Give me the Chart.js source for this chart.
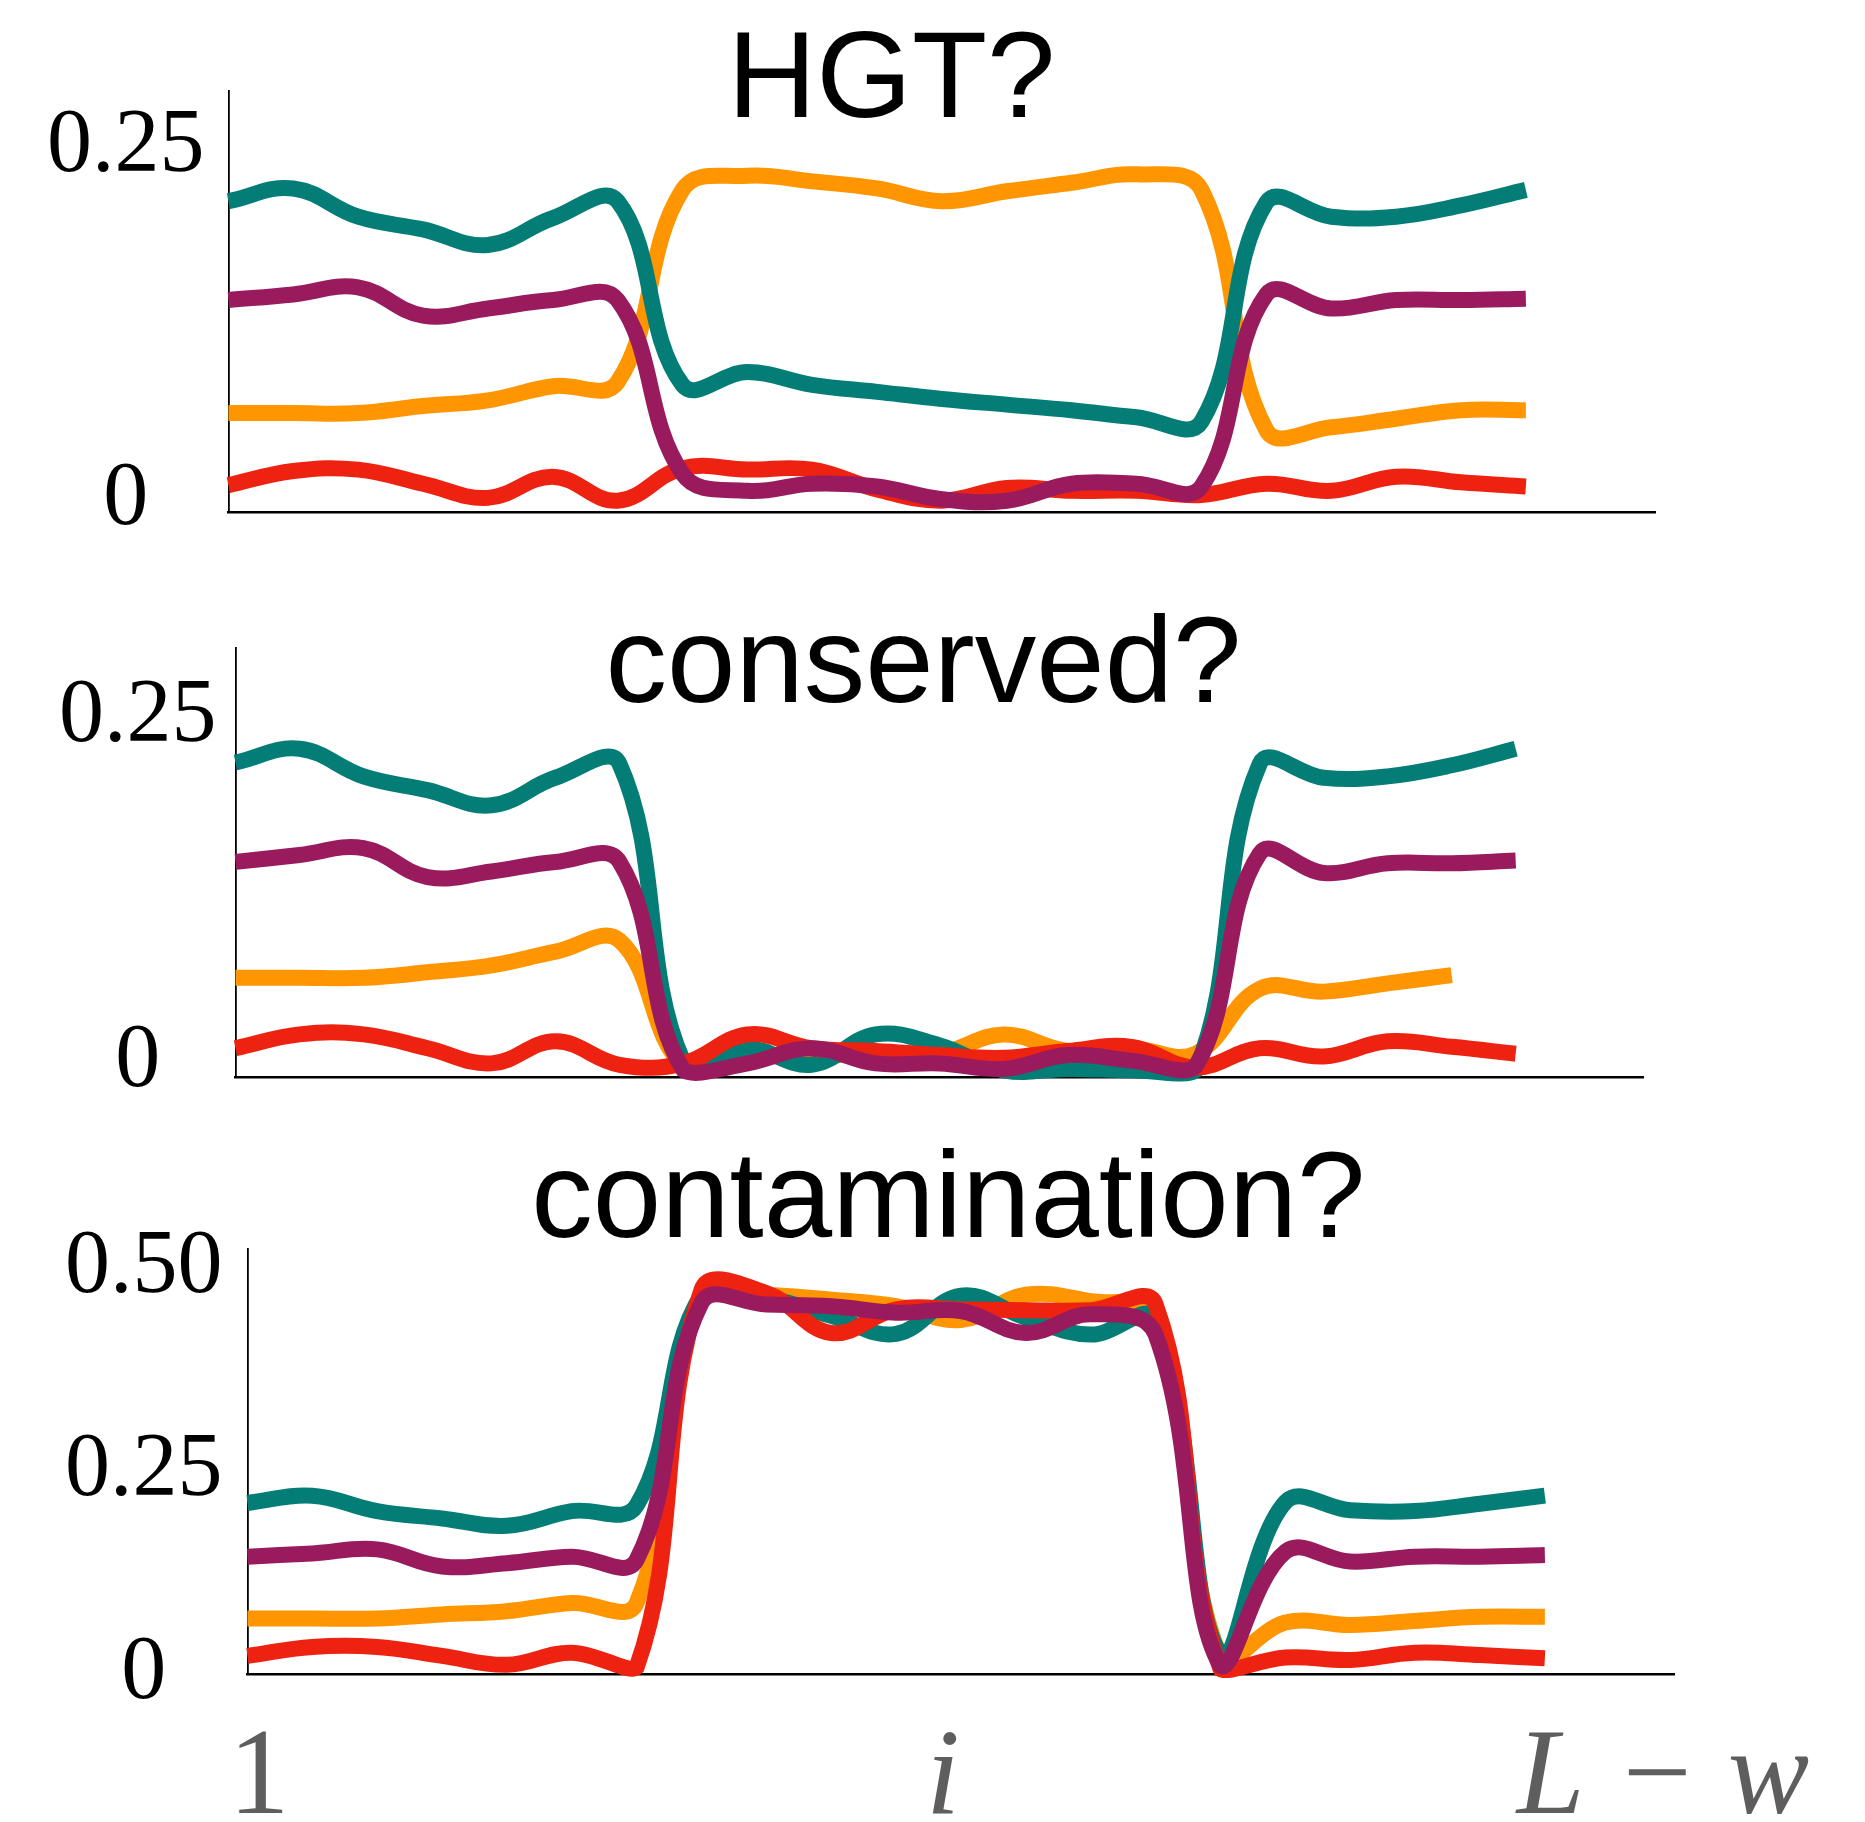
<!DOCTYPE html>
<html>
<head>
<meta charset="utf-8">
<script src="https://cdn.jsdelivr.net/npm/chart.js@4.4.1/dist/chart.umd.min.js"></script>
<style>
  body { margin: 0; background: #fff; }
  #wrap { position: relative; width: 1865px; height: 1822px; }
  canvas { position: absolute; left: 0; }
</style>
</head>
<body>
<div id="wrap">
  <canvas id="hgtChart" width="1865" height="560" style="top:0px"></canvas>
  <canvas id="consChart" width="1865" height="580" style="top:560px"></canvas>
  <canvas id="contChart" width="1865" height="682" style="top:1140px"></canvas>
</div>
<script>
// window index along the sequence
const windows = [0, 1, 2, 3, 4, 5, 6, 7, 8, 9, 10, 11, 12, 13, 14, 15, 16, 17, 18, 19, 20];
const xTickPos = [0.18, 10.72, 21.82];
const xTickLabels = ['1', 'i', 'L \u2212 w'];

const colTeal = '#037D75';
const colOrange = '#FF9500';
const colPurple = '#991B5E';
const colRed = '#EE2211';

// HGT?
const hgtTeal   = [0.212, 0.221, 0.201, 0.192, 0.181, 0.200, 0.212, 0.082, 0.091, 0.082, 0.077, 0.072, 0.068, 0.064, 0.059, 0.056, 0.211, 0.201, 0.201, 0.209, 0.220];
const hgtOrange = [0.062, 0.062, 0.062, 0.067, 0.071, 0.081, 0.084, 0.220, 0.230, 0.226, 0.221, 0.212, 0.219, 0.225, 0.231, 0.220, 0.050, 0.052, 0.058, 0.064, 0.064];
const hgtPurple = [0.142, 0.146, 0.151, 0.131, 0.136, 0.142, 0.142, 0.019, 0.007, 0.012, 0.010, 0.001, 0.000, 0.012, 0.012, 0.010, 0.146, 0.136, 0.142, 0.142, 0.143];
const hgtRed    = [0.011, 0.021, 0.022, 0.012, 0.002, 0.017, 0.000, 0.023, 0.022, 0.022, 0.008, 0.000, 0.009, 0.007, 0.007, 0.004, 0.012, 0.007, 0.017, 0.013, 0.010];

// conserved?
const consTeal   = [0.217, 0.227, 0.207, 0.197, 0.186, 0.206, 0.216, 0.000, 0.010, -0.002, 0.020, 0.012, -0.006, -0.005, -0.006, -0.006, 0.216, 0.206, 0.207, 0.215, 0.227];
const consOrange = [0.061, 0.061, 0.061, 0.065, 0.070, 0.080, 0.088, -0.003, 0.003, 0.005, 0.005, 0.006, 0.020, 0.008, 0.010, 0.006, 0.053, 0.051, 0.057, 0.063];
const consPurple = [0.145, 0.150, 0.155, 0.134, 0.138, 0.145, 0.145, -0.006, -0.001, 0.010, -0.001, -0.001, -0.005, 0.005, 0.001, -0.003, 0.151, 0.137, 0.144, 0.144, 0.146];
const consRed    = [0.010, 0.020, 0.020, 0.010, -0.001, 0.015, -0.002, -0.001, 0.020, 0.010, 0.008, 0.005, 0.003, 0.008, 0.011, -0.004, 0.010, 0.004, 0.015, 0.011, 0.006];

// contamination?
const contTeal   = [0.211, 0.220, 0.201, 0.192, 0.183, 0.201, 0.208, 0.467, 0.463, 0.441, 0.419, 0.466, 0.439, 0.418, 0.436, 0.025, 0.212, 0.202, 0.201, 0.210, 0.220];
const contOrange = [0.069, 0.069, 0.069, 0.074, 0.078, 0.088, 0.088, 0.469, 0.467, 0.461, 0.453, 0.436, 0.467, 0.459, 0.441, 0.021, 0.064, 0.061, 0.066, 0.071, 0.071];
const contPurple = [0.145, 0.149, 0.154, 0.133, 0.137, 0.145, 0.141, 0.457, 0.455, 0.453, 0.445, 0.447, 0.420, 0.443, 0.418, 0.011, 0.151, 0.139, 0.145, 0.145, 0.147];
const contRed    = [0.023, 0.034, 0.034, 0.023, 0.012, 0.027, 0.009, 0.473, 0.469, 0.420, 0.449, 0.449, 0.448, 0.448, 0.455, 0.007, 0.021, 0.018, 0.027, 0.024, 0.020];

const yTicksSmall = [0, 0.25];
const yLabelsSmall = ['0', '0.25'];
const yTicksBig = [0, 0.25, 0.5];
const yLabelsBig = ['0', '0.25', '0.50'];

const serif = '"Liberation Serif", "Times New Roman", serif';

// big title over each panel
const panelTitle = {
  id: 'panelTitle',
  afterDraw(chart, args, opts) {
    const ctx = chart.ctx;
    ctx.save();
    ctx.font = '123px "Liberation Sans", Arial, sans-serif';
    ctx.fillStyle = '#000';
    ctx.textAlign = 'center';
    ctx.textBaseline = 'alphabetic';
    ctx.fillText(opts.text, opts.x, opts.y);
    ctx.restore();
  }
};

function makePanel(id, p) {
  const canvas = document.getElementById(id);
  const H = canvas.height;
  // x axis box runs down to the canvas bottom so its labels are not clipped
  const xh = H - (p.bottom - p.canvasTop);

  const series = [
    { data: p.purple, color: colPurple },
    { data: p.red, color: colRed },
    { data: p.teal, color: colTeal },
    { data: p.orange, color: colOrange }
  ];

  new Chart(canvas.getContext('2d'), {
    type: 'line',
    data: {
      labels: windows,
      datasets: series.map(s => ({
        data: s.data,
        borderColor: s.color,
        borderWidth: 16,
        pointRadius: 0,
        tension: 0.4,
        fill: false,
        clip: false
      }))
    },
    options: {
      responsive: false,
      animation: false,
      devicePixelRatio: 1,
      layout: {
        padding: { left: 0, top: p.top - p.canvasTop, right: 1865 - p.right, bottom: 0 }
      },
      plugins: {
        legend: { display: false },
        tooltip: { enabled: false },
        title: { display: false },
        panelTitle: { text: p.title, x: p.titleX, y: p.titleY - p.canvasTop }
      },
      scales: {
        x: {
          type: 'linear',
          min: 0,
          max: 22,
          afterFit: s => { s.height = xh; s.paddingLeft = 0; s.paddingRight = 0; },
          afterBuildTicks: s => { s.ticks = xTickPos.map(v => ({ value: v })); },
          grid: { display: false, drawTicks: false },
          border: { display: true, color: '#000', width: 2.6 },
          ticks: {
            display: p.showX,
            autoSkip: false,
            maxRotation: 0,
            minRotation: 0,
            padding: 33,
            color: '#5E5E5E',
            font: c => ({ family: serif, size: 122, style: c.index === 0 ? 'normal' : 'italic' }),
            callback: (v, i) => xTickLabels[i]
          }
        },
        y: {
          min: p.yMin,
          max: p.yMax,
          afterFit: s => { s.width = p.left; s.paddingTop = 0; s.paddingBottom = 0; },
          afterBuildTicks: s => { s.ticks = p.yTicks.map(v => ({ value: v })); },
          grid: { display: false, drawTicks: false },
          border: { display: true, color: '#000', width: 1.8 },
          ticks: {
            padding: p.yPad,
            crossAlign: 'center',
            color: '#000',
            font: { family: serif, size: 90 },
            callback: (v, i) => p.yLabels[i]
          }
        }
      }
    },
    plugins: [panelTitle]
  });
}

makePanel('hgtChart', {
  canvasTop: 0, left: 228.4, right: 1655.6, top: 90.4, bottom: 512.7,
  yMin: -0.0085, yMax: 0.2904, yTicks: yTicksSmall, yLabels: yLabelsSmall, yPad: 24,
  title: 'HGT?', titleX: 891.5, titleY: 116.6,
  teal: hgtTeal, orange: hgtOrange, purple: hgtPurple, red: hgtRed, showX: false
});

makePanel('consChart', {
  canvasTop: 560, left: 235.5, right: 1643.7, top: 648, bottom: 1077.6,
  yMin: -0.0113, yMax: 0.30, yTicks: yTicksSmall, yLabels: yLabelsSmall, yPad: 19,
  title: 'conserved?', titleX: 923.5, titleY: 701.7,
  teal: consTeal, orange: consOrange, purple: consPurple, red: consRed, showX: false
});

makePanel('contChart', {
  canvasTop: 1140, left: 247.4, right: 1674.6, top: 1248.8, bottom: 1674.6,
  yMin: 0, yMax: 0.5235, yTicks: yTicksBig, yLabels: yLabelsBig, yPad: 25,
  title: 'contamination?', titleX: 948.4, titleY: 1237,
  teal: contTeal, orange: contOrange, purple: contPurple, red: contRed, showX: true
});
</script>
</body>
</html>
